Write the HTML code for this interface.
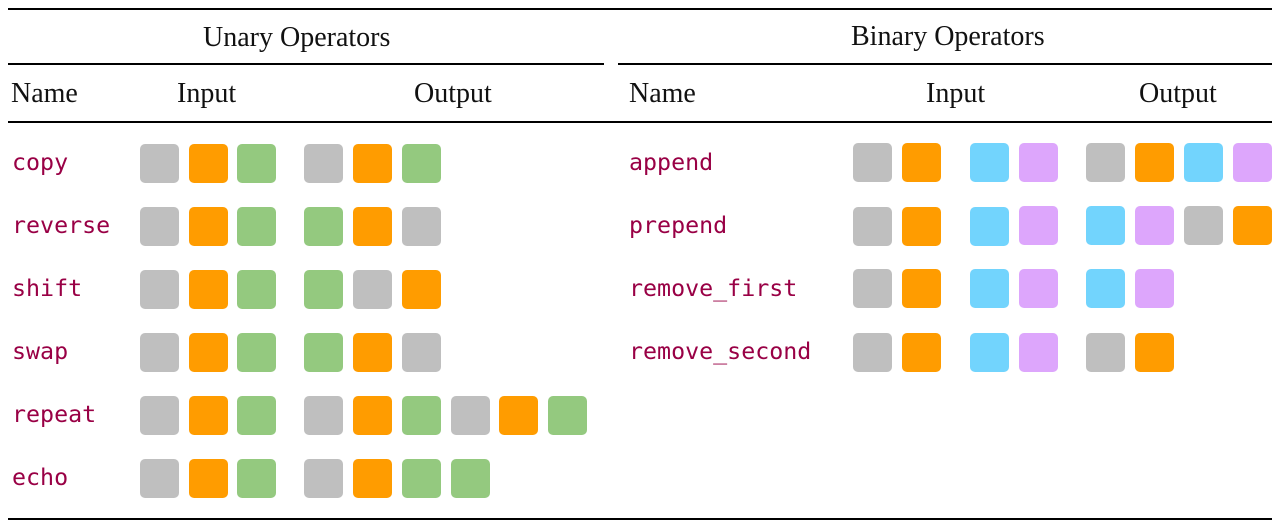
<!DOCTYPE html>
<html><head><meta charset="utf-8"><style>
body{margin:0;width:1280px;height:528px;background:#fff;position:relative;overflow:hidden}
.l{position:absolute;background:#000}
.t{position:absolute;font-family:"Liberation Serif",serif;font-size:28px;color:#111;line-height:1;white-space:nowrap}
.c{position:absolute;font-family:"DejaVu Sans Mono","Liberation Mono",monospace;font-size:23.3px;color:#990045;line-height:1;white-space:nowrap}
.s{position:absolute;width:39px;height:39px;border-radius:5px}
.g{background:#bfbfbf}.o{background:#ff9c00}.n{background:#94c97f}.b{background:#72d4fd}.p{background:#dda6fc}
</style></head><body>
<div class="l" style="left:8px;top:8px;width:1264px;height:2px"></div>
<div class="l" style="left:8px;top:63px;width:596px;height:1.5px"></div>
<div class="l" style="left:618px;top:63px;width:654px;height:1.5px"></div>
<div class="l" style="left:8px;top:121px;width:1264px;height:1.5px"></div>
<div class="l" style="left:8px;top:518px;width:1264px;height:2px"></div>
<div class="t" style="left:203px;top:24px">Unary Operators</div>
<div class="t" style="left:851px;top:23px">Binary Operators</div>
<div class="t" style="left:11px;top:80px">Name</div>
<div class="t" style="left:177px;top:80px">Input</div>
<div class="t" style="left:414px;top:80px">Output</div>
<div class="t" style="left:629px;top:80px">Name</div>
<div class="t" style="left:926px;top:80px">Input</div>
<div class="t" style="left:1139px;top:80px">Output</div>

<div class="c" style="left:12px;top:151px">copy</div>
<div class="c" style="left:12px;top:214px">reverse</div>
<div class="c" style="left:12px;top:277px">shift</div>
<div class="c" style="left:12px;top:340px">swap</div>
<div class="c" style="left:12px;top:403px">repeat</div>
<div class="c" style="left:12px;top:466px">echo</div>
<div class="c" style="left:629px;top:151px">append</div>
<div class="c" style="left:629px;top:214px">prepend</div>
<div class="c" style="left:629px;top:277px">remove_first</div>
<div class="c" style="left:629px;top:340px">remove_second</div>

<div class="s g" style="left:140px;top:144px"></div><div class="s o" style="left:189px;top:144px"></div><div class="s n" style="left:237px;top:144px"></div>
<div class="s g" style="left:140px;top:207px"></div><div class="s o" style="left:189px;top:207px"></div><div class="s n" style="left:237px;top:207px"></div>
<div class="s g" style="left:140px;top:270px"></div><div class="s o" style="left:189px;top:270px"></div><div class="s n" style="left:237px;top:270px"></div>
<div class="s g" style="left:140px;top:333px"></div><div class="s o" style="left:189px;top:333px"></div><div class="s n" style="left:237px;top:333px"></div>
<div class="s g" style="left:140px;top:396px"></div><div class="s o" style="left:189px;top:396px"></div><div class="s n" style="left:237px;top:396px"></div>
<div class="s g" style="left:140px;top:459px"></div><div class="s o" style="left:189px;top:459px"></div><div class="s n" style="left:237px;top:459px"></div>

<div class="s g" style="left:304px;top:144px"></div><div class="s o" style="left:353px;top:144px"></div><div class="s n" style="left:402px;top:144px"></div>
<div class="s n" style="left:304px;top:207px"></div><div class="s o" style="left:353px;top:207px"></div><div class="s g" style="left:402px;top:207px"></div>
<div class="s n" style="left:304px;top:270px"></div><div class="s g" style="left:353px;top:270px"></div><div class="s o" style="left:402px;top:270px"></div>
<div class="s n" style="left:304px;top:333px"></div><div class="s o" style="left:353px;top:333px"></div><div class="s g" style="left:402px;top:333px"></div>
<div class="s g" style="left:304px;top:396px"></div><div class="s o" style="left:353px;top:396px"></div><div class="s n" style="left:402px;top:396px"></div><div class="s g" style="left:451px;top:396px"></div><div class="s o" style="left:499px;top:396px"></div><div class="s n" style="left:548px;top:396px"></div>
<div class="s g" style="left:304px;top:459px"></div><div class="s o" style="left:353px;top:459px"></div><div class="s n" style="left:402px;top:459px"></div><div class="s n" style="left:451px;top:459px"></div>

<div class="s g" style="left:853px;top:143px"></div><div class="s o" style="left:902px;top:143px"></div><div class="s b" style="left:970px;top:143px"></div><div class="s p" style="left:1019px;top:143px"></div>
<div class="s g" style="left:1086px;top:143px"></div><div class="s o" style="left:1135px;top:143px"></div><div class="s b" style="left:1184px;top:143px"></div><div class="s p" style="left:1233px;top:143px"></div>

<div class="s g" style="left:853px;top:207px"></div><div class="s o" style="left:902px;top:207px"></div><div class="s b" style="left:970px;top:207px"></div><div class="s p" style="left:1019px;top:206px"></div>
<div class="s b" style="left:1086px;top:206px"></div><div class="s p" style="left:1135px;top:206px"></div><div class="s g" style="left:1184px;top:206px"></div><div class="s o" style="left:1233px;top:206px"></div>

<div class="s g" style="left:853px;top:269px"></div><div class="s o" style="left:902px;top:269px"></div><div class="s b" style="left:970px;top:269px"></div><div class="s p" style="left:1019px;top:269px"></div>
<div class="s b" style="left:1086px;top:269px"></div><div class="s p" style="left:1135px;top:269px"></div>

<div class="s g" style="left:853px;top:333px"></div><div class="s o" style="left:902px;top:333px"></div><div class="s b" style="left:970px;top:333px"></div><div class="s p" style="left:1019px;top:333px"></div>
<div class="s g" style="left:1086px;top:333px"></div><div class="s o" style="left:1135px;top:333px"></div>
</body></html>
